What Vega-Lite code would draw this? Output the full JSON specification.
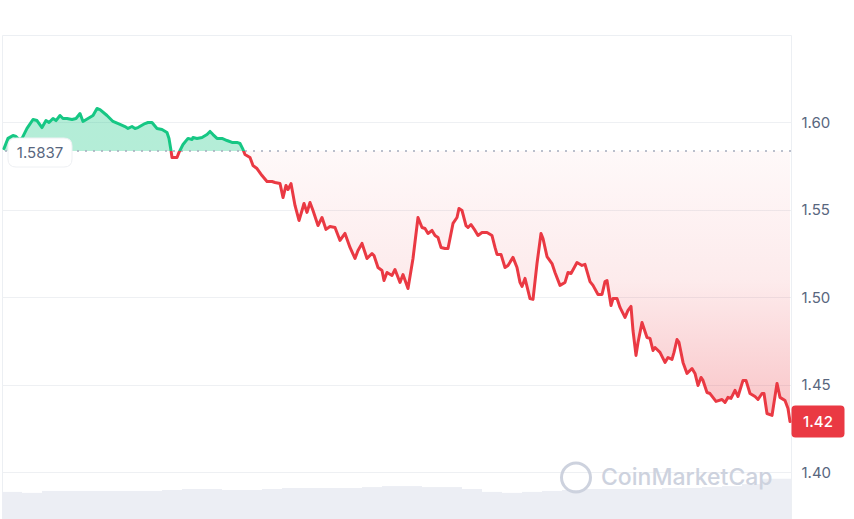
{
  "$schema": "https://vega.github.io/schema/vega-lite/v6.json",
  "autosize": {"type": "none"},
  "width": 789,
  "height": 484,
  "padding": {"left": 2, "top": 35, "right": 63, "bottom": 0},
  "background": "#ffffff",
  "config": {
    "view": {"stroke": "#eceff3"},
    "font": "Inter",
    "axis": {"labelFont": "Inter"}
  },
  "data": {"name": "price"},
  "datasets": {
    "price": [
      {"t":4,"price":1.5851},{"t":8,"price":1.5909},{"t":13,"price":1.5926},{"t":16,"price":1.5920},{"t":19,"price":1.5903},{"t":22,"price":1.5909},{"t":27,"price":1.5966},{"t":33,"price":1.6017},{"t":37,"price":1.6011},{"t":42,"price":1.5971},{"t":46,"price":1.6011},{"t":49,"price":1.6000},{"t":53,"price":1.6023},{"t":56,"price":1.6011},{"t":60,"price":1.6040},{"t":63,"price":1.6023},{"t":67,"price":1.6023},{"t":72,"price":1.6017},{"t":76,"price":1.6023},{"t":80,"price":1.6051},{"t":83,"price":1.6006},{"t":88,"price":1.6023},{"t":93,"price":1.6040},{"t":97,"price":1.6080},{"t":100,"price":1.6074},{"t":107,"price":1.6040},{"t":113,"price":1.6006},{"t":120,"price":1.5989},{"t":125,"price":1.5977},{"t":128,"price":1.5966},{"t":132,"price":1.5977},{"t":135,"price":1.5966},{"t":138,"price":1.5971},{"t":145,"price":1.5994},{"t":148,"price":1.6000},{"t":152,"price":1.6000},{"t":157,"price":1.5966},{"t":162,"price":1.5960},{"t":167,"price":1.5943},{"t":169,"price":1.5909},{"t":171,"price":1.5840},{"t":172,"price":1.5800},{"t":177,"price":1.5800},{"t":179,"price":1.5829},{"t":183,"price":1.5874},{"t":188,"price":1.5909},{"t":192,"price":1.5903},{"t":193,"price":1.5914},{"t":197,"price":1.5909},{"t":202,"price":1.5914},{"t":207,"price":1.5931},{"t":210,"price":1.5949},{"t":213,"price":1.5931},{"t":217,"price":1.5909},{"t":222,"price":1.5909},{"t":227,"price":1.5897},{"t":232,"price":1.5886},{"t":237,"price":1.5886},{"t":240,"price":1.5880},{"t":243,"price":1.5846},{"t":245,"price":1.5817},{"t":250,"price":1.5800},{"t":253,"price":1.5754},{"t":257,"price":1.5737},{"t":262,"price":1.5697},{"t":267,"price":1.5663},{"t":272,"price":1.5663},{"t":275,"price":1.5657},{"t":280,"price":1.5651},{"t":283,"price":1.5571},{"t":286,"price":1.5640},{"t":288,"price":1.5617},{"t":291,"price":1.5651},{"t":295,"price":1.5526},{"t":299,"price":1.5440},{"t":302,"price":1.5497},{"t":304,"price":1.5537},{"t":307,"price":1.5486},{"t":310,"price":1.5543},{"t":313,"price":1.5497},{"t":318,"price":1.5411},{"t":322,"price":1.5457},{"t":326,"price":1.5389},{"t":330,"price":1.5406},{"t":335,"price":1.5400},{"t":340,"price":1.5326},{"t":345,"price":1.5366},{"t":350,"price":1.5286},{"t":355,"price":1.5223},{"t":358,"price":1.5269},{"t":362,"price":1.5309},{"t":367,"price":1.5223},{"t":372,"price":1.5251},{"t":374,"price":1.5240},{"t":378,"price":1.5171},{"t":382,"price":1.5154},{"t":384,"price":1.5097},{"t":387,"price":1.5143},{"t":392,"price":1.5126},{"t":395,"price":1.5160},{"t":400,"price":1.5086},{"t":403,"price":1.5131},{"t":408,"price":1.5051},{"t":413,"price":1.5223},{"t":418,"price":1.5457},{"t":422,"price":1.5400},{"t":425,"price":1.5394},{"t":428,"price":1.5366},{"t":432,"price":1.5383},{"t":435,"price":1.5354},{"t":438,"price":1.5343},{"t":441,"price":1.5286},{"t":445,"price":1.5280},{"t":448,"price":1.5280},{"t":453,"price":1.5423},{"t":457,"price":1.5457},{"t":459,"price":1.5509},{"t":462,"price":1.5497},{"t":466,"price":1.5411},{"t":468,"price":1.5400},{"t":471,"price":1.5417},{"t":475,"price":1.5383},{"t":478,"price":1.5354},{"t":482,"price":1.5371},{"t":487,"price":1.5371},{"t":492,"price":1.5354},{"t":495,"price":1.5286},{"t":497,"price":1.5246},{"t":501,"price":1.5246},{"t":505,"price":1.5171},{"t":508,"price":1.5183},{"t":513,"price":1.5229},{"t":517,"price":1.5171},{"t":520,"price":1.5086},{"t":522,"price":1.5063},{"t":525,"price":1.5109},{"t":530,"price":1.4994},{"t":533,"price":1.4989},{"t":537,"price":1.5194},{"t":541,"price":1.5366},{"t":543,"price":1.5337},{"t":547,"price":1.5234},{"t":552,"price":1.5194},{"t":555,"price":1.5143},{"t":560,"price":1.5069},{"t":565,"price":1.5086},{"t":568,"price":1.5143},{"t":571,"price":1.5137},{"t":577,"price":1.5200},{"t":582,"price":1.5183},{"t":585,"price":1.5189},{"t":590,"price":1.5091},{"t":593,"price":1.5069},{"t":598,"price":1.5017},{"t":602,"price":1.5017},{"t":605,"price":1.5091},{"t":607,"price":1.5097},{"t":611,"price":1.4954},{"t":613,"price":1.4994},{"t":617,"price":1.4994},{"t":620,"price":1.4943},{"t":625,"price":1.4886},{"t":628,"price":1.4926},{"t":631,"price":1.4949},{"t":633,"price":1.4811},{"t":636,"price":1.4669},{"t":638,"price":1.4743},{"t":642,"price":1.4857},{"t":647,"price":1.4771},{"t":650,"price":1.4766},{"t":653,"price":1.4697},{"t":655,"price":1.4714},{"t":660,"price":1.4686},{"t":665,"price":1.4629},{"t":668,"price":1.4657},{"t":672,"price":1.4646},{"t":674,"price":1.4686},{"t":677,"price":1.4760},{"t":679,"price":1.4743},{"t":683,"price":1.4629},{"t":687,"price":1.4566},{"t":692,"price":1.4594},{"t":695,"price":1.4566},{"t":698,"price":1.4497},{"t":701,"price":1.4543},{"t":703,"price":1.4526},{"t":707,"price":1.4457},{"t":710,"price":1.4451},{"t":716,"price":1.4406},{"t":722,"price":1.4417},{"t":725,"price":1.4400},{"t":728,"price":1.4429},{"t":731,"price":1.4423},{"t":735,"price":1.4469},{"t":738,"price":1.4434},{"t":743,"price":1.4526},{"t":746,"price":1.4526},{"t":750,"price":1.4451},{"t":755,"price":1.4434},{"t":758,"price":1.4417},{"t":762,"price":1.4451},{"t":764,"price":1.4451},{"t":767,"price":1.4337},{"t":772,"price":1.4326},{"t":777,"price":1.4509},{"t":780,"price":1.4429},{"t":785,"price":1.4411},{"t":788,"price":1.4366},{"t":790,"price":1.4291}
    ],
    "volume": [
      {"t0":2,"t1":22,"vol":5.6},{"t0":22,"t1":42,"vol":5.4},{"t0":42,"t1":62,"vol":5.8},{"t0":62,"t1":82,"vol":5.8},{"t0":82,"t1":102,"vol":5.8},{"t0":102,"t1":122,"vol":5.8},{"t0":122,"t1":142,"vol":5.8},{"t0":142,"t1":162,"vol":5.8},{"t0":162,"t1":182,"vol":6.0},{"t0":182,"t1":202,"vol":6.2},{"t0":202,"t1":222,"vol":6.2},{"t0":222,"t1":242,"vol":6.0},{"t0":242,"t1":262,"vol":6.0},{"t0":262,"t1":282,"vol":6.2},{"t0":282,"t1":302,"vol":6.4},{"t0":302,"t1":322,"vol":6.4},{"t0":322,"t1":342,"vol":6.4},{"t0":342,"t1":362,"vol":6.4},{"t0":362,"t1":382,"vol":6.6},{"t0":382,"t1":402,"vol":6.8},{"t0":402,"t1":422,"vol":6.8},{"t0":422,"t1":442,"vol":6.6},{"t0":442,"t1":462,"vol":6.6},{"t0":462,"t1":482,"vol":6.2},{"t0":482,"t1":502,"vol":5.6},{"t0":502,"t1":522,"vol":5.4},{"t0":522,"t1":542,"vol":5.6},{"t0":542,"t1":562,"vol":5.8},{"t0":562,"t1":582,"vol":6.0},{"t0":582,"t1":602,"vol":6.2},{"t0":602,"t1":622,"vol":6.2},{"t0":622,"t1":642,"vol":6.2},{"t0":642,"t1":662,"vol":6.2},{"t0":662,"t1":682,"vol":6.4},{"t0":682,"t1":702,"vol":6.4},{"t0":702,"t1":722,"vol":6.6},{"t0":722,"t1":742,"vol":6.8},{"t0":742,"t1":762,"vol":7.2},{"t0":762,"t1":791,"vol":8.3}
    ],
    "open": [{"t": 40, "price": 1.5837, "label": "1.5837"}],
    "last": [{"t": 790, "price": 1.4291, "label": "1.42"}],
    "one": [{}]
  },
  "resolve": {"scale": {"y": "independent"}},
  "layer": [
    {
      "data": {"name": "volume"},
      "mark": {"type": "rect", "color": "#eceef4"},
      "encoding": {
        "x": {"field": "t0", "type": "quantitative", "scale": {"domain": [2, 791], "nice": false, "zero": false}, "axis": null},
        "x2": {"field": "t1"},
        "y": {"field": "vol", "type": "quantitative", "scale": {"domain": [0, 100], "nice": false}, "axis": null},
        "y2": {"datum": 0}
      }
    },
    {
      "layer": [
        {
          "mark": {
            "type": "area",
            "fill": {
              "gradient": "linear", "x1": 0, "y1": 0, "x2": 0, "y2": 1,
              "stops": [
                {"offset": 0, "color": "rgba(22,199,132,0.32)"},
                {"offset": 0.1358, "color": "rgba(22,199,132,0.32)"},
                {"offset": 0.1358, "color": "rgba(234,57,67,0.03)"},
                {"offset": 0.55, "color": "rgba(234,57,67,0.1)"},
                {"offset": 1, "color": "rgba(234,57,67,0.3)"}
              ]
            }
          },
          "encoding": {
            "x": {"field": "t", "type": "quantitative", "scale": {"domain": [2, 791], "nice": false, "zero": false}, "axis": null},
            "y": {
              "field": "price", "type": "quantitative",
              "scale": {"domain": [1.3734, 1.65], "nice": false, "zero": false},
              "axis": {
                "orient": "right", "values": [1.4, 1.45, 1.5, 1.55, 1.6], "format": ".2f",
                "domain": false, "ticks": false, "labelPadding": 10, "labelFontSize": 15,
                "labelColor": "#58667e", "labelFont": "Inter",
                "grid": true, "gridColor": "#eef0f3", "gridWidth": 1, "title": null
              }
            },
            "y2": {"datum": 1.5837}
          }
        },
        {
          "data": {"name": "one"},
          "mark": {"type": "rule", "color": "#a5acbd", "strokeDash": [2, 6], "strokeWidth": 1.5},
          "encoding": {"y": {"datum": 1.5837, "type": "quantitative"}}
        },
        {
          "mark": {
            "type": "line", "strokeWidth": 3, "strokeJoin": "round", "strokeCap": "round",
            "stroke": {
              "gradient": "linear", "x1": 0, "y1": 0, "x2": 0, "y2": 1,
              "stops": [
                {"offset": 0, "color": "#16c784"},
                {"offset": 0.1358, "color": "#16c784"},
                {"offset": 0.1358, "color": "#ea3943"},
                {"offset": 1, "color": "#ea3943"}
              ]
            }
          },
          "encoding": {
            "x": {"field": "t", "type": "quantitative"},
            "y": {"field": "price", "type": "quantitative"}
          }
        },
        {
          "data": {"name": "one"},
          "mark": {"type": "point", "shape": "circle", "filled": false, "size": 840, "stroke": "#cdd2de", "strokeWidth": 3, "opacity": 1},
          "encoding": {"x": {"datum": 576, "type": "quantitative"}, "y": {"datum": 1.3971, "type": "quantitative"}}
        },
        {
          "data": {"name": "one"},
          "mark": {"type": "text", "text": "CoinMarketCap", "align": "left", "baseline": "middle", "fontSize": 23, "fontWeight": 500, "color": "#cdd2de", "font": "Inter"},
          "encoding": {"x": {"datum": 601, "type": "quantitative"}, "y": {"datum": 1.3966, "type": "quantitative"}}
        },
        {
          "data": {"name": "open"},
          "mark": {
            "type": "point", "filled": true, "size": 4096, "fill": "#ffffff", "stroke": "#eef0f3", "strokeWidth": 1, "opacity": 1, "yOffset": 1.5,
            "shape": "M-0.75,-0.453 L0.75,-0.453 Q1,-0.453 1,-0.203 L1,0.203 Q1,0.453 0.75,0.453 L-0.75,0.453 Q-1,0.453 -1,0.203 L-1,-0.203 Q-1,-0.453 -0.75,-0.453 Z"
          },
          "encoding": {"x": {"field": "t", "type": "quantitative"}, "y": {"field": "price", "type": "quantitative"}}
        },
        {
          "data": {"name": "open"},
          "mark": {"type": "text", "fontSize": 15, "color": "#58667e", "align": "center", "baseline": "middle", "dy": 2, "font": "Inter"},
          "encoding": {"x": {"field": "t", "type": "quantitative"}, "y": {"field": "price", "type": "quantitative"}, "text": {"field": "label"}}
        },
        {
          "data": {"name": "last"},
          "mark": {
            "type": "point", "filled": true, "size": 2809, "fill": "#ea3943", "strokeWidth": 0, "opacity": 1, "xOffset": 28,
            "shape": "M-0.849,-0.604 L0.849,-0.604 Q1,-0.604 1,-0.453 L1,0.453 Q1,0.604 0.849,0.604 L-0.849,0.604 Q-1,0.604 -1,0.453 L-1,-0.453 Q-1,-0.604 -0.849,-0.604 Z"
          },
          "encoding": {"x": {"field": "t", "type": "quantitative"}, "y": {"field": "price", "type": "quantitative"}}
        },
        {
          "data": {"name": "last"},
          "mark": {"type": "text", "fontSize": 15, "fontWeight": 500, "color": "#ffffff", "align": "center", "baseline": "middle", "dx": 28, "font": "Inter"},
          "encoding": {"x": {"field": "t", "type": "quantitative"}, "y": {"field": "price", "type": "quantitative"}, "text": {"field": "label"}}
        }
      ]
    }
  ]
}
